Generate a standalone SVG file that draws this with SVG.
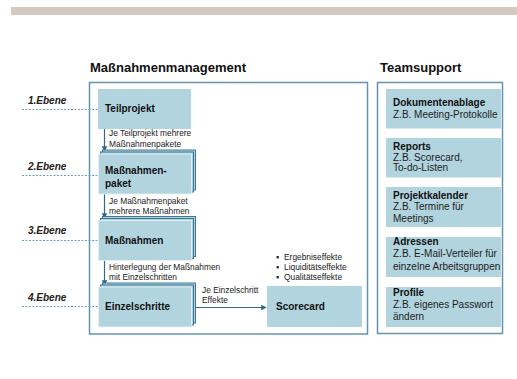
<svg xmlns="http://www.w3.org/2000/svg" width="517" height="379" viewBox="0 0 517 379">
  <defs>
    <marker id="arrow" viewBox="0 0 8 8" refX="7" refY="4" markerWidth="5.5" markerHeight="5.5" orient="auto" markerUnits="userSpaceOnUse">
      <path d="M0,0 L8,4 L0,8 Z" fill="#2d6a8a"/>
    </marker>
    <!-- stacked card: two outlined layers behind the front card -->
    <g id="stack">
      <rect x="4" y="-4" width="93" height="40" class="layer"/>
      <rect x="2" y="-2" width="93" height="40" class="layer"/>
      <rect x="0" y="0" width="93" height="40" class="front"/>
    </g>
  </defs>
  <style>
    text { font-family: "Liberation Sans", Arial, sans-serif; fill: #111; }
    .title { font-size: 13px; font-weight: bold; }
    .node { font-size: 10px; font-weight: bold; }
    .lvl { font-size: 10px; font-weight: bold; font-style: italic; fill: #222; }
    .small { font-size: 8.4px; fill: #222; }
    .desc { font-size: 10px; fill: #222; }
    .frame { fill: #fff; stroke: #6593ae; stroke-width: 1.5; }
    .box { fill: #b1d4df; }
    .layer { fill: #b1d4df; stroke: #2f6b8c; stroke-width: 0.9; }
    .front { fill: #b1d4df; stroke: #e8f3f6; stroke-width: 0.8; }
    .dash { stroke: #6f9fb8; stroke-width: 1; stroke-dasharray: 2 1.5; fill: none; }
    .conn { stroke: #2d6a8a; stroke-width: 1.2; fill: none; }
  </style>

  <!-- header band -->
  <rect x="11" y="7" width="506" height="8" fill="#d6c9c0"/>

  <!-- section headings -->
  <text x="90" y="72" class="title">Maßnahmenmanagement</text>
  <text x="380" y="72" class="title">Teamsupport</text>

  <!-- section frames -->
  <rect x="89.5" y="82.5" width="278" height="251.5" class="frame"/>
  <rect x="377.5" y="82.5" width="125" height="251" class="frame"/>

  <!-- level markers -->
  <g id="levels">
    <text x="28" y="104" class="lvl">1.Ebene</text>
    <line x1="22" y1="109.5" x2="98" y2="109.5" class="dash"/>
    <text x="28" y="170" class="lvl">2.Ebene</text>
    <line x1="22" y1="175.5" x2="99" y2="175.5" class="dash"/>
    <text x="28" y="234" class="lvl">3.Ebene</text>
    <line x1="22" y1="240.5" x2="99" y2="240.5" class="dash"/>
    <text x="28" y="301" class="lvl">4.Ebene</text>
    <line x1="22" y1="306.5" x2="99" y2="306.5" class="dash"/>
  </g>

  <!-- connectors -->
  <g id="connectors">
    <line x1="104.5" y1="129" x2="104.5" y2="151" class="conn" marker-end="url(#arrow)"/>
    <line x1="104.5" y1="194" x2="104.5" y2="218" class="conn" marker-end="url(#arrow)"/>
    <line x1="104.5" y1="260" x2="104.5" y2="285" class="conn" marker-end="url(#arrow)"/>
    <line x1="191" y1="307.5" x2="266" y2="307.5" class="conn" marker-end="url(#arrow)"/>
    <text x="109" y="136" class="small">Je Teilprojekt mehrere</text>
    <text x="109" y="147" class="small">Maßnahmenpakete</text>
    <text x="109" y="203.5" class="small">Je Maßnahmenpaket</text>
    <text x="109" y="213.5" class="small">mehrere Maßnahmen</text>
    <text x="109" y="270" class="small">Hinterlegung der Maßnahmen</text>
    <text x="109" y="279.5" class="small">mit Einzelschritten</text>
    <text x="202" y="293" class="small">Je Einzelschritt</text>
    <text x="202" y="303" class="small">Effekte</text>
  </g>

  <!-- Maßnahmenmanagement nodes -->
  <g id="teilprojekt">
    <rect x="98" y="89" width="93" height="40" class="box"/>
    <text x="105" y="112" class="node">Teilprojekt</text>
  </g>
  <g id="massnahmenpaket">
    <use href="#stack" x="98.5" y="154"/>
    <text x="105" y="174" class="node">Maßnahmen-</text>
    <text x="105" y="187" class="node">paket</text>
  </g>
  <g id="massnahmen">
    <use href="#stack" x="98.5" y="220.5"/>
    <text x="105" y="244" class="node">Maßnahmen</text>
  </g>
  <g id="einzelschritte">
    <use href="#stack" x="98.5" y="287"/>
    <text x="105" y="310" class="node">Einzelschritte</text>
  </g>
  <g id="scorecard">
    <rect x="267" y="286" width="95" height="41" class="box"/>
    <text x="276" y="310" class="node">Scorecard</text>
  </g>
  <g id="effekte">
    <rect x="276.5" y="256" width="2.4" height="2.4" fill="#333"/>
    <text x="284" y="259.5" class="small">Ergebniseffekte</text>
    <rect x="276.5" y="266" width="2.4" height="2.4" fill="#333"/>
    <text x="284" y="269.5" class="small">Liquiditätseffekte</text>
    <rect x="276.5" y="276" width="2.4" height="2.4" fill="#333"/>
    <text x="284" y="279.5" class="small">Qualitätseffekte</text>
  </g>

  <!-- Teamsupport nodes -->
  <g id="dokumentenablage">
    <rect x="386" y="89" width="115" height="39.5" class="box"/>
    <text x="393" y="106" class="node">Dokumentenablage</text>
    <text x="393" y="117.5" class="desc">Z.B. Meeting-Protokolle</text>
  </g>
  <g id="reports">
    <rect x="386" y="138" width="115" height="39.5" class="box"/>
    <text x="393" y="149.5" class="node">Reports</text>
    <text x="393" y="160.5" class="desc">Z.B. Scorecard,</text>
    <text x="393" y="171" class="desc">To-do-Listen</text>
  </g>
  <g id="projektkalender">
    <rect x="386" y="187" width="115" height="40" class="box"/>
    <text x="393" y="198.5" class="node">Projektkalender</text>
    <text x="393" y="210" class="desc">Z.B. Termine für</text>
    <text x="393" y="221.5" class="desc">Meetings</text>
  </g>
  <g id="adressen">
    <rect x="386" y="237" width="115" height="40" class="box"/>
    <text x="393" y="245" class="node">Adressen</text>
    <text x="393" y="257" class="desc">Z.B. E-Mail-Verteiler für</text>
    <text x="393" y="270" class="desc">einzelne Arbeitsgruppen</text>
  </g>
  <g id="profile">
    <rect x="386" y="287" width="115" height="40" class="box"/>
    <text x="393" y="296" class="node">Profile</text>
    <text x="393" y="307.5" class="desc">Z.B. eigenes Passwort</text>
    <text x="393" y="319.5" class="desc">ändern</text>
  </g>
</svg>
